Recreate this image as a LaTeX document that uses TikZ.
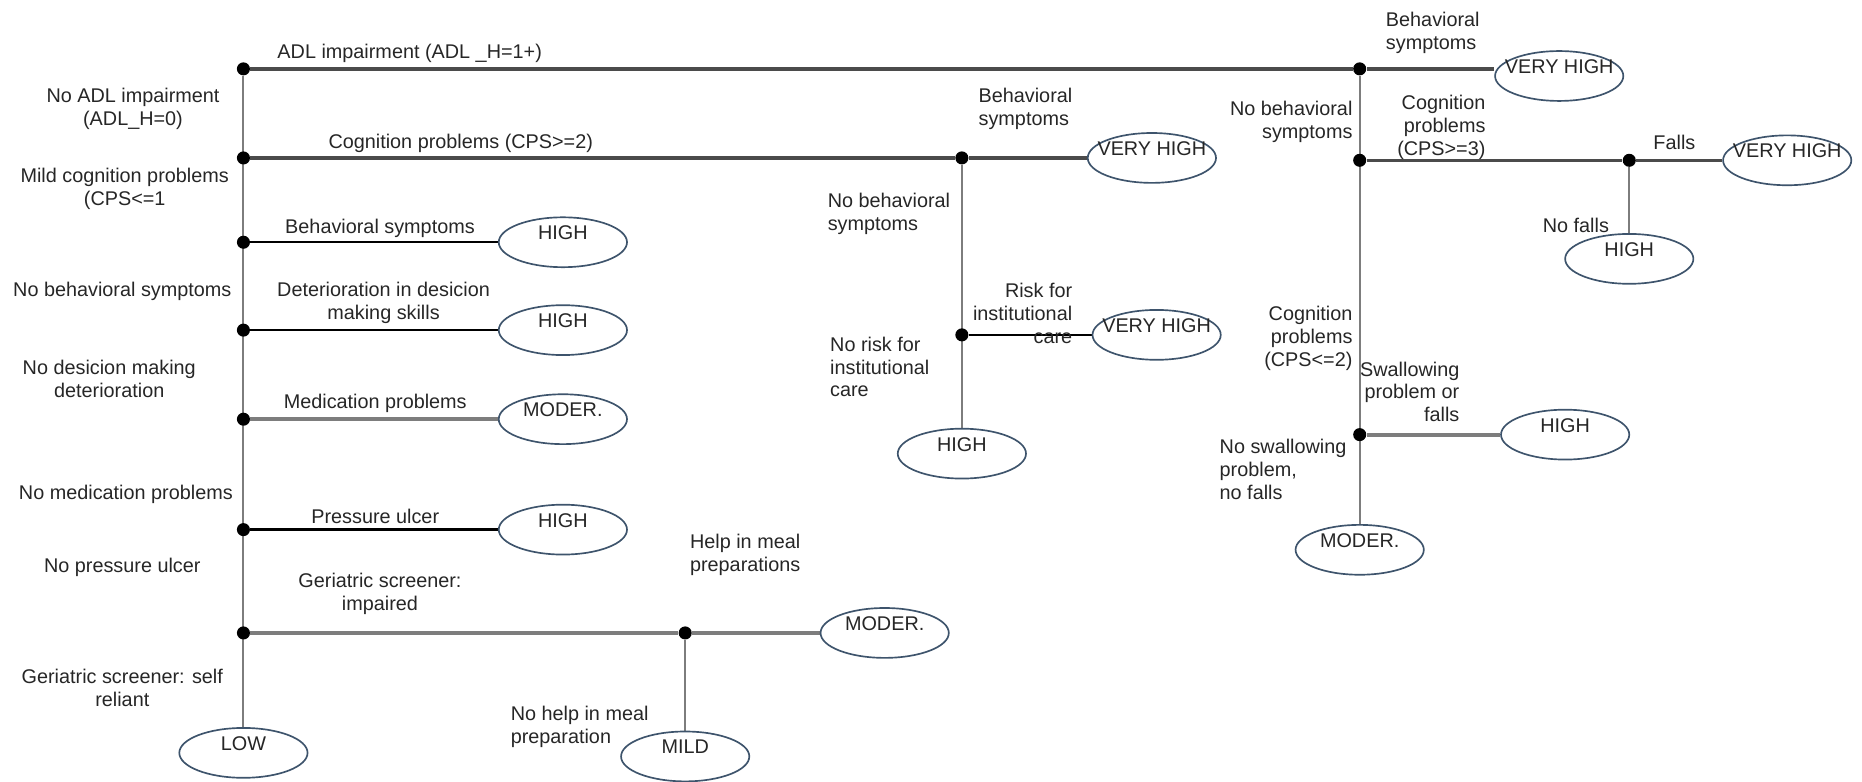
\documentclass[tikz,border=0pt]{standalone}
\usepackage{fontspec}
\setmainfont{Liberation Sans}
\usepackage{tikz}
\usetikzlibrary{shapes.geometric,backgrounds}
\definecolor{ellblue}{RGB}{62,84,108}
\definecolor{linegray}{RGB}{125,125,125}
\definecolor{darkline}{RGB}{75,75,75}
\newcommand{\rk}[1]{\makebox[0pt]{#1}}

\begin{document}
\begin{tikzpicture}[
    x=0.2mm, y=-0.2mm,
    font=\fontsize{9.5}{11}\selectfont,
    dot/.style={circle, fill=black, inner sep=0pt, minimum size=2.2mm},
    risk/.style={ellipse, draw=ellblue, fill=white, thick, inner sep=0pt, minimum width=21.6mm, minimum height=8.4mm, text height=6.5pt, text depth=9pt, text=black!85},
    lbl/.style={align=center, inner sep=1pt, text=black!85},
    lbll/.style={align=left, inner sep=1pt, text=black!85},
    lblr/.style={align=right, inner sep=1pt, text=black!85},
    mainline/.style={draw=darkline, line width=1.6pt},
    blackline/.style={draw=black, line width=1.2pt},
    grayline/.style={draw=linegray, line width=2pt},
    stem/.style={draw=linegray, line width=1pt}
]
\useasboundingbox (0,0) rectangle (1568,658);

% Main spine
\node[dot] (s1) at (205,58) {};
\node[dot] (s2) at (205,133) {};
\node[dot] (s3) at (205,204) {};
\node[dot] (s4) at (205,278) {};
\node[dot] (s5) at (205,353) {};
\node[dot] (s6) at (205,446) {};
\node[dot] (s7) at (205,533) {};
\node[risk] (low) at (205,634) {\rk{LOW}};

% Outcomes along the spine
\node[risk] (hi1) at (474,204) {\rk{HIGH}};
\node[risk] (hi2) at (474,278) {\rk{HIGH}};
\node[risk] (mo1) at (474,353) {\rk{MODER.}};
\node[risk] (hi3) at (474,446) {\rk{HIGH}};
\node[dot] (meal) at (577,533) {};
\node[risk] (mo2) at (745,533) {\rk{MODER.}};
\node[risk] (mild) at (577,637) {\rk{MILD}};

% Cognition branch
\node[dot] (c1) at (810,133) {};
\node[risk] (vh1) at (970,133) {\rk{VERY HIGH}};
\node[dot] (c2) at (810,282) {};
\node[risk] (vh2) at (974,282) {\rk{VERY HIGH}};
\node[risk] (hi4) at (810,382) {\rk{HIGH}};

% ADL branch
\node[dot] (a1) at (1145,58) {};
\node[risk] (vh3) at (1313,64) {\rk{VERY HIGH}};
\node[dot] (a2) at (1145,135) {};
\node[dot] (f1) at (1372,135) {};
\node[risk] (vh4) at (1505,135) {\rk{VERY HIGH}};
\node[risk] (hi5) at (1372,218) {\rk{HIGH}};
\node[dot] (a3) at (1145,366) {};
\node[risk] (hi6) at (1318,366) {\rk{HIGH}};
\node[risk] (mo3) at (1145,463) {\rk{MODER.}};

% Labels, spine
\node[lbl] (t_adl) at (345,45) {ADL impairment (ADL \_H=1+)};
\node[lbl] (t_noadl) at (112,92) {No ADL impairment\\(ADL\_H=0)};
\node[lbl] (t_cps) at (388,121) {Cognition problems (CPS>=2)};
\node[lbl] (t_mild) at (105,159) {Mild cognition problems\\(CPS<=1};
\node[lbl] (t_beh) at (320,192) {Behavioral symptoms};
\node[lbl] (t_nobeh) at (103,245) {No behavioral symptoms};
\node[lbl] (t_det) at (323,255) {Deterioration in desicion\\making skills};
\node[lbl] (t_nodet) at (92,319) {No desicion making\\deterioration};
\node[lbl] (t_med) at (316,340) {Medication problems};
\node[lbl] (t_nomed) at (106,416) {No medication problems};
\node[lbl] (t_ulc) at (316,435) {Pressure ulcer};
\node[lbl] (t_noulc) at (103,478) {No pressure ulcer};
\node[lbl] (t_ger) at (320,500) {Geriatric screener:\\impaired};
\node[lbl] (t_self) at (103,579) {Geriatric screener: self\\reliant};
\node[lbll, anchor=west] (t_meal) at (579,467) {Help in meal\\preparations};
\node[lbll, anchor=west] (t_nomeal) at (428,612) {No help in meal\\preparation};

% Labels, cognition branch
\node[lbll, anchor=west] (t_beh2) at (822,92) {Behavioral\\symptoms};
\node[lbll, anchor=west] (t_nobeh2) at (695,180) {No behavioral\\symptoms};
\node[lblr, anchor=east] (t_inst) at (905,264) {Risk for\\institutional\\care};
\node[lbll, anchor=west] (t_noinst) at (697,309) {No risk for\\institutional\\care};

% Labels, ADL branch
\node[lbll, anchor=west] (t_beh3) at (1165,28) {Behavioral\\symptoms};
\node[lblr, anchor=east] (t_nobeh3) at (1141,103) {No behavioral\\symptoms};
\node[lblr, anchor=east] (t_cps3) at (1253,107) {Cognition\\problems\\(CPS>=3)};
\node[lbl] (t_falls) at (1410,120) {Falls};
\node[lblr, anchor=east] (t_nofalls) at (1357,190) {No falls};
\node[lblr, anchor=east] (t_cps2) at (1141,285) {Cognition\\problems\\(CPS<=2)};
\node[lblr, anchor=east] (t_swal) at (1231,330) {Swallowing\\problem or\\falls};
\node[lbll, anchor=west] (t_noswal) at (1025,395) {No swallowing\\problem,\\no falls};

% Connectors
\begin{scope}[on background layer]
\draw[stem] (s1) -- (low);
\draw[mainline] (s1) -- (a1);
\draw[mainline] (s2) -- (c1);
\draw[blackline] (s3) -- (hi1);
\draw[blackline] (s4) -- (hi2);
\draw[grayline] (s5) -- (mo1);
\draw[blackline] (s6) -- (hi3);
\draw[grayline] (s7) -- (meal);
\draw[grayline] (meal) -- (mo2);
\draw[stem] (meal) -- (mild);

\draw[mainline] (c1) -- (vh1);
\draw[stem] (c1) -- (hi4);
\draw[blackline] (c2) -- (vh2);

\draw[mainline] (a1) -- (a1 -| vh3.west);
\draw[stem] (a1) -- (mo3);
\draw[mainline] (a2) -- (f1);
\draw[mainline] (f1) -- (vh4);
\draw[stem] (f1) -- (hi5);
\draw[grayline] (a3) -- (hi6);
\end{scope}

\end{tikzpicture}
\end{document}
